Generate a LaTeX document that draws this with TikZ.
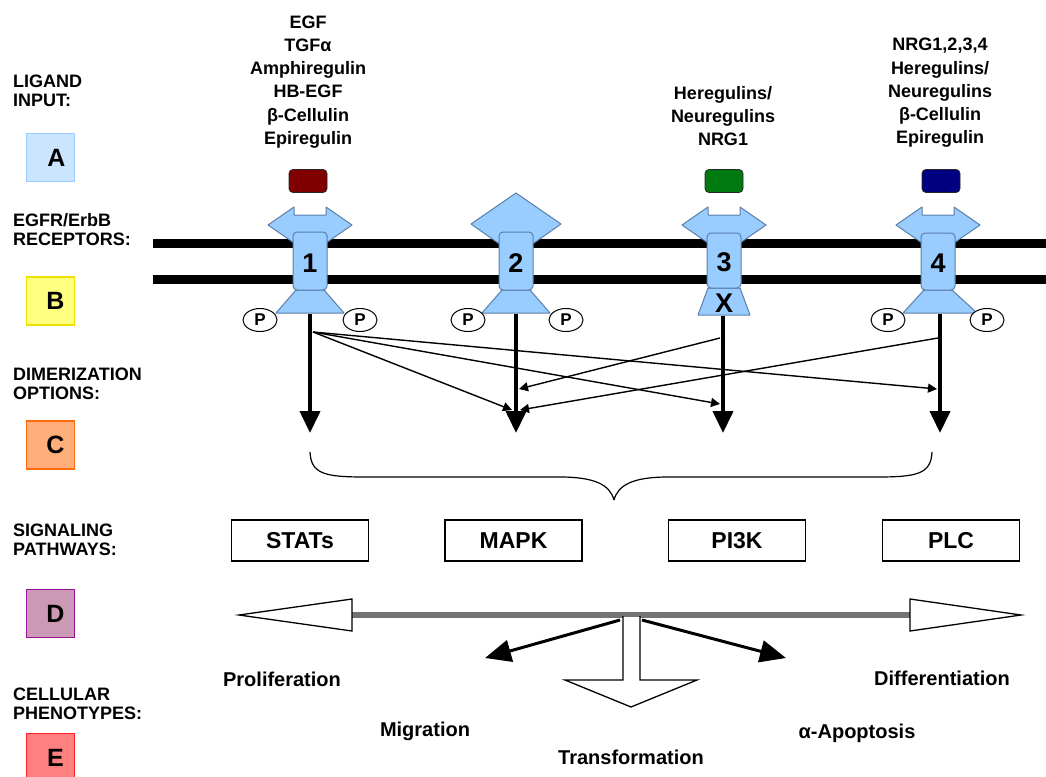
\documentclass[tikz,border=0pt]{standalone}
\usepackage{fontspec}
\setmainfont{Liberation Sans}
\usetikzlibrary{arrows.meta,positioning,shapes.geometric}

\definecolor{recfill}{HTML}{99CCFF}
\definecolor{recline}{HTML}{5A7FA8}
\definecolor{keyA}{HTML}{CCE5FF}
\definecolor{keyAline}{HTML}{99CCFF}
\definecolor{keyB}{HTML}{FFFF80}
\definecolor{keyBline}{HTML}{F0E000}
\definecolor{keyC}{HTML}{FFAD7A}
\definecolor{keyCline}{HTML}{FF6A10}
\definecolor{keyD}{HTML}{CC99B5}
\definecolor{keyDline}{HTML}{99119A}
\definecolor{keyE}{HTML}{FF8080}
\definecolor{keyEline}{HTML}{FF2020}
\definecolor{ligred}{HTML}{800000}
\definecolor{liggreen}{HTML}{007A10}
\definecolor{ligblue}{HTML}{000080}

\begin{document}
\begin{tikzpicture}[
    x=1pt, y=-1pt,
    lbl/.style={anchor=west, align=left, inner sep=0pt,
      font=\fontsize{18}{19}\selectfont\bfseries},
    keybox/.style={draw, line width=1.5pt, minimum size=48pt, inner sep=0pt,
      font=\fontsize{25}{25}\selectfont\bfseries},
    lig/.style={align=center, inner sep=0pt,
      font=\fontsize{18}{23.2}\selectfont\bfseries},
    ligbox/.style={draw=black!85, line width=0.8pt, rounded corners=4pt,
      minimum width=38pt, minimum height=23pt, inner sep=0pt},
    rec/.style={fill=recfill, draw=recline, line width=1pt, line join=round},
    num/.style={inner sep=0pt, font=\fontsize{27}{27}\selectfont\bfseries},
    phos/.style={draw, fill=white, ellipse, line width=1pt, minimum width=34pt,
      minimum height=23pt, inner sep=0pt, font=\fontsize{17}{17}\selectfont\bfseries},
    pathbox/.style={draw, line width=1.6pt, minimum width=137pt, minimum height=41pt,
      inner sep=0pt, font=\fontsize{23}{23}\selectfont\bfseries},
    pheno/.style={inner sep=0pt, font=\fontsize{20}{20}\selectfont\bfseries},
    bigarrow/.style={-{Triangle[length=22pt,width=20pt]}, line width=4pt},
    thinarrow/.style={-{Triangle[length=9pt,width=9pt]}, line width=1.4pt},
    leverarrow/.style={-{Triangle[length=26pt,width=22pt]}, line width=3pt},
    openhead/.style={fill=white, draw=black, line width=1.3pt}
  ]
    \useasboundingbox (0,0) rectangle (1046,776);
    \clip (0,0) rectangle (1046,776);

    % row labels and key boxes
    \node[lbl] (ligandlbl) at (13,91) {LIGAND\\INPUT:};
    \node[lbl] (receptlbl) at (13,229.5) {EGFR/ErbB\\RECEPTORS:};
    \node[lbl] (dimerlbl) at (13,384) {DIMERIZATION\\OPTIONS:};
    \node[lbl] (signallbl) at (13,540) {SIGNALING\\PATHWAYS:};
    \node[lbl] (phenolbl) at (13,704) {CELLULAR\\PHENOTYPES:};

    \node[keybox, fill=keyA, draw=keyAline] (keya) at (50.5,157.5) {\hspace*{12pt}A};
    \node[keybox, fill=keyB, draw=keyBline] (keyb) at (50.5,301) {\hspace*{10pt}B};
    \node[keybox, fill=keyC, draw=keyCline] (keyc) at (50.5,445) {\hspace*{10pt}C};
    \node[keybox, fill=keyD, draw=keyDline] (keyd) at (50.5,613.5) {\hspace*{10pt}D};
    \node[keybox, fill=keyE, draw=keyEline] (keye) at (50.5,757.5) {\hspace*{10pt}E};

    % ligands
    \node[lig] (lig1) at (308,82) {EGF\\TGFα\\Amphiregulin\\HB-EGF\\β-Cellulin\\Epiregulin};
    \node[lig] (lig3) at (723,116) {Heregulins/\\Neuregulins\\NRG1};
    \node[lig] (lig4) at (940,93) {NRG1,2,3,4\\Heregulins/\\Neuregulins\\β-Cellulin\\Epiregulin};

    \node[ligbox, fill=ligred] (box1) at (308,181) {};
    \node[ligbox, fill=liggreen] (box3) at (724,181) {};
    \node[ligbox, fill=ligblue] (box4) at (941,181) {};

    % membrane
    \draw[line width=9pt] (153,243.5) -- (1046,243.5);
    \draw[line width=9pt] (153,279.5) -- (1046,279.5);

    % receptor 1
    \begin{scope}[xshift=310pt]
      \draw[rec] (-16,215) -- (-16,207) -- (-42,225) -- (-16,243) -- (16,243)
        -- (42,225) -- (16,207) -- (16,215) -- cycle;
      \draw[rec] (-14,290) -- (-34,313) -- (34,313) -- (14,290) -- cycle;
      \draw[rec, rounded corners=4pt] (-17,232) rectangle (17,290);
      \node[num] (num1) at (0,263) {1};
      \node[phos] (p1a) at (-50,320) {P};
      \node[phos] (p1b) at (50,320) {P};
      \coordinate (s1) at (0,314);
      \coordinate (e1) at (0,433);
    \end{scope}

    % receptor 2
    \begin{scope}[xshift=516pt]
      \draw[rec] (0,193) -- (-45,224) -- (-18,243) -- (18,243) -- (45,224) -- cycle;
      \draw[rec] (-14,290) -- (-34,313) -- (34,313) -- (14,290) -- cycle;
      \draw[rec, rounded corners=4pt] (-17,232) rectangle (17,290);
      \node[num] (num2) at (0,263) {2};
      \node[phos] (p2a) at (-48,320) {P};
      \node[phos] (p2b) at (50,320) {P};
      \coordinate (s2) at (0,314);
      \coordinate (e2) at (0,433);
    \end{scope}

    % receptor 3
    \begin{scope}[xshift=724pt]
      \draw[rec] (-16,215) -- (-16,207) -- (-42,225) -- (-16,243) -- (16,243)
        -- (42,225) -- (16,207) -- (16,215) -- cycle;
      \draw[rec] (-16,288) -- (-26,315) -- (26,315) -- (16,288) -- cycle;
      \draw[rec, rounded corners=4pt] (-17,233) rectangle (17,288);
      \node[num] (num3) at (0,262) {3};
      \node[num] (xmark) at (0,303) {X};
      \coordinate (s3) at (-1,316);
      \coordinate (e3) at (-1,433);
    \end{scope}

    % receptor 4
    \begin{scope}[xshift=938pt]
      \draw[rec] (-16,215) -- (-16,207) -- (-42,225) -- (-16,243) -- (16,243)
        -- (42,225) -- (16,207) -- (16,215) -- cycle;
      \draw[rec] (-14,290) -- (-35,313) -- (39,313) -- (14,290) -- cycle;
      \draw[rec, rounded corners=4pt] (-17,233) rectangle (17,290);
      \node[num] (num4) at (0,263) {4};
      \node[phos] (p4a) at (-50,320) {P};
      \node[phos] (p4b) at (49,320) {P};
      \coordinate (s4) at (2,314);
      \coordinate (e4) at (2,433);
    \end{scope}

    % dimerization arrows
    \draw[bigarrow] (s1) -- (e1);
    \draw[bigarrow] (s2) -- (e2);
    \draw[bigarrow] (s3) -- (e3);
    \draw[bigarrow] (s4) -- (e4);

    \coordinate (o1) at (313,332);
    \coordinate (o3) at (720,338);
    \coordinate (o4) at (938,338);
    \coordinate (i2l) at (512,410);
    \coordinate (i2r) at (520,410);
    \coordinate (i2u) at (519,389);
    \coordinate (i3) at (720,404);
    \coordinate (i4) at (937,389);

    \draw[thinarrow] (o1) -- (i2l);
    \draw[thinarrow] (o1) -- (i3);
    \draw[thinarrow] (o1) -- (i4);
    \draw[thinarrow] (o3) -- (i2u);
    \draw[thinarrow] (o4) -- (i2r);

    % brace
    \coordinate (brl) at (310,452);
    \coordinate (brr) at (932,452);
    \coordinate (brtip) at (614,500);
    \draw[line width=1.2pt] (brl) .. controls (311,474) and (325,477) .. (365,477)
      -- (560,477) .. controls (595,477) and (610,485) .. (brtip);
    \draw[line width=1.2pt] (brr) .. controls (931,474) and (917,477) .. (877,477)
      -- (668,477) .. controls (633,477) and (618,485) .. (brtip);

    % signaling pathways
    \node[pathbox] (stats) at (300,540.5) {STATs};
    \node[pathbox] (mapk) at (513.5,540.5) {MAPK};
    \node[pathbox] (pi3k) at (737,540.5) {PI3K};
    \node[pathbox] (plc) at (951,540.5) {PLC};

    % phenotype balance
    \coordinate (barl) at (352,615);
    \coordinate (barr) at (910,615);
    \draw[black!55, line width=6pt] (barl) -- (barr);
    \draw[openhead] (352,599) -- (239,615) -- (352,631) -- cycle;
    \draw[openhead] (910,599) -- (1021,615) -- (910,631) -- cycle;

    \coordinate (pivl) at (620,620);
    \coordinate (pivr) at (642,620);
    \coordinate (migtip) at (485,658);
    \coordinate (apotip) at (786,658);
    \draw[leverarrow] (pivl) -- (migtip);
    \draw[leverarrow] (pivr) -- (apotip);

    \fill[white] (623,617) -- (623,680) -- (565,680) -- (631,707) -- (697,680)
      -- (640,680) -- (640,617) -- cycle;
    \draw[line width=1.3pt] (623,616) -- (623,680) -- (565,680) -- (631,707)
      -- (697,680) -- (640,680) -- (640,616);

    % cellular phenotypes
    \node[pheno] (prolif) at (282,679) {Proliferation};
    \node[pheno] (migr) at (425,731) {Migration};
    \node[pheno] (transf) at (631,757) {Transformation};
    \node[pheno] (apopt) at (857,733) {α-Apoptosis};
    \node[pheno] (differ) at (942,678) {Differentiation};
\end{tikzpicture}
\end{document}
